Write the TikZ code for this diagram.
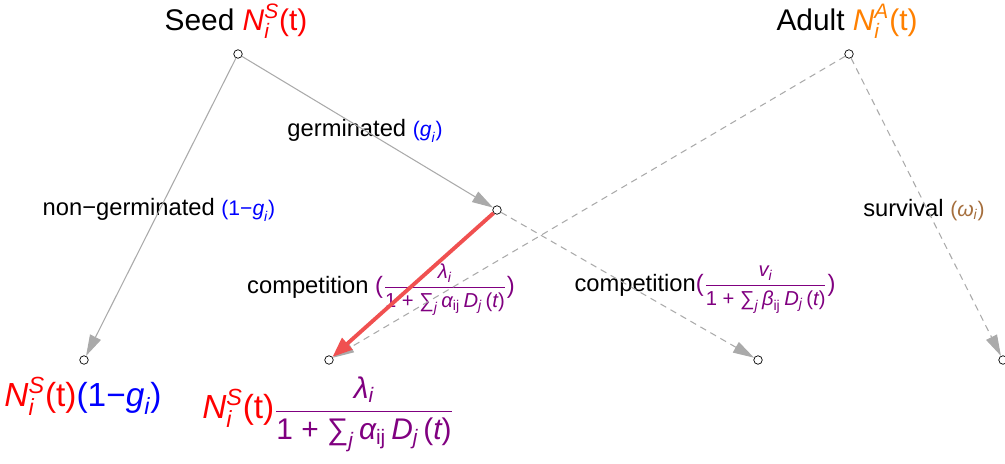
\documentclass[tikz,border=0pt]{standalone}
\usepackage{fontspec}
\setmainfont{Liberation Sans}
\usepackage{amsmath}
\definecolor{seedred}{RGB}{255, 0, 0}
\definecolor{adultorange}{RGB}{255, 128, 0}
\definecolor{coefblue}{RGB}{0, 0, 255}
\definecolor{comppurple}{RGB}{128, 0, 128}
\definecolor{survbrown}{RGB}{165, 110, 60}
\definecolor{edgegray}{RGB}{170, 170, 170}
\definecolor{pathred}{RGB}{240, 80, 80}
\usetikzlibrary{arrows.meta}

\newcommand{\mv}[1]{\text{\itshape #1}}
\newcommand{\coefsize}{\fontsize{12}{14}\selectfont}
\newcommand{\fracsize}{\fontsize{11.5}{13.5}\selectfont}

\tikzset{
    state/.style={circle, draw, thin, fill=white, inner sep=0pt, minimum size=0.17cm},
    flow/.style={draw=edgegray, line width=0.6pt, -{Triangle[length=0.42cm, width=0.24cm]}},
    flowdash/.style={flow, dash pattern=on 0.13cm off 0.1cm},
    hotflow/.style={draw=pathred, line width=2.2pt, -{Triangle[length=0.4cm, width=0.3cm]}},
    title/.style={font=\fontsize{17}{20}\selectfont},
    lbl/.style={font=\fontsize{13.5}{16}\selectfont},
    result/.style={font=\fontsize{19}{23}\selectfont}
}

\begin{document}
\begin{tikzpicture}
        \useasboundingbox (0,0) rectangle (20.1,9.26);

        % states
        \node[state] (seed) at (4.76,8.18) {};
        \node[state] (adult) at (16.98,8.18) {};
        \node[state] (germ) at (9.94,5.06) {};
        \node[state] (nongerm) at (1.68,2.06) {};
        \node[state] (comp1) at (6.58,2.06) {};
        \node[state] (comp2) at (15.16,2.06) {};
        \node[state] (survive) at (20.06,2.06) {};

        % titles
        \node[title] (seedtitle) at (4.72,8.84)
            {Seed \textcolor{seedred}{$\mv{N}_{\mv{i}}^{\mv{S}}$(t)}};
        \node[title] (adulttitle) at (16.94,8.84)
            {Adult \textcolor{adultorange}{$\mv{N}_{\mv{i}}^{\mv{A}}$(t)}};

        % transition labels
        \node[lbl] (germlbl) at (7.3,6.64)
            {germinated {\coefsize\textcolor{coefblue}{($\mv{g}_{\mv{i}}$)}}};
        \node[lbl] (nongermlbl) at (3.18,5.06)
            {non−germinated {\coefsize\textcolor{coefblue}{(1−$\mv{g}_{\mv{i}}$)}}};
        \node[lbl] (survlbl) at (18.48,5.06)
            {survival {\coefsize\textcolor{survbrown}{($\mv{ω}_{\mv{i}}$)}}};
        \node[lbl] (complbl1) at (7.62,3.46)
            {competition \textcolor{comppurple}{({\fracsize$\dfrac{\mv{λ}_{\mv{i}}}{\text{1 + ∑}_{\mv{j}}\,\mv{α}_{\text{ij}}\,\mv{D}_{\mv{j}}\,\text{(}\mv{t}\text{)}}$})}};
        \node[lbl] (complbl2) at (14.1,3.46)
            {competition\textcolor{comppurple}{({\fracsize$\dfrac{\mv{v}_{\mv{i}}}{\text{1 + ∑}_{\mv{j}}\,\mv{β}_{\text{ij}}\,\mv{D}_{\mv{j}}\,\text{(}\mv{t}\text{)}}$})}};

        % results
        \node[result] (res1) at (1.66,1.34)
            {\textcolor{seedred}{$\mv{N}_{\mv{i}}^{\mv{S}}$(t)}\textcolor{coefblue}{(1−$\mv{g}_{\mv{i}}$)}};
        \node[result] (res2) at (6.56,0.98)
            {\textcolor{seedred}{$\mv{N}_{\mv{i}}^{\mv{S}}$(t)}\textcolor{comppurple}{\fontsize{17}{20}\selectfont$\dfrac{\mv{λ}_{\mv{i}}}{\text{1 + ∑}_{\mv{j}}\,\mv{α}_{\text{ij}}\,\mv{D}_{\mv{j}}\,\text{(}\mv{t}\text{)}}$}};

        % transitions
        \draw[flow] (seed) -- (nongerm);
        \draw[flow] (seed) -- (germ);
        \draw[flowdash] (germ) -- (comp2);
        \draw[flowdash] (adult) -- (comp1);
        \draw[flowdash] (adult) -- (survive);
        \draw[hotflow] (germ) -- (comp1);
    \end{tikzpicture}
\end{document}
